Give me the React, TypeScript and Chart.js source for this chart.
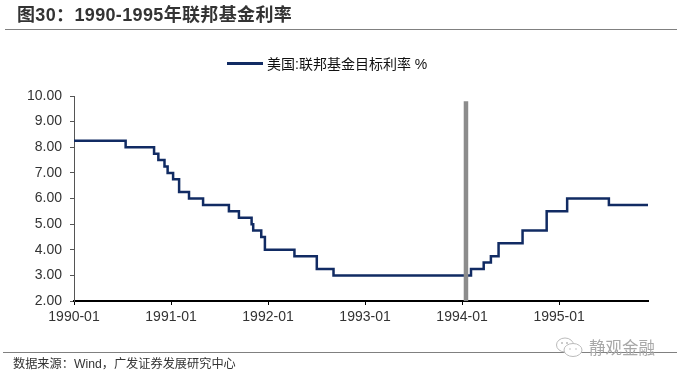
import React, { useEffect, useRef } from "react";
import { Chart, registerables } from "chart.js";

Chart.register(...registerables);

// ---- data ----
const rateDates = [
  "1990-01-01", "1990-07-13", "1990-10-29", "1990-11-14", "1990-12-07", "1990-12-19",
  "1991-01-09", "1991-02-01", "1991-03-08", "1991-04-30", "1991-08-06", "1991-09-13",
  "1991-10-31", "1991-11-06", "1991-12-06", "1991-12-20", "1992-04-09", "1992-07-02",
  "1992-09-04", "1994-02-04", "1994-03-22", "1994-04-18", "1994-05-17", "1994-08-16",
  "1994-11-15", "1995-02-01", "1995-07-06", "1995-12-01",
];
const rates = [
  8.25, 8.0, 7.75, 7.5, 7.25, 7.0,
  6.75, 6.25, 6.0, 5.75, 5.5, 5.25,
  5.0, 4.75, 4.5, 4.0, 3.75, 3.25,
  3.0, 3.25, 3.5, 3.75, 4.25, 4.75,
  5.5, 6.0, 5.75, 5.75,
];
const markerDate = "1994-01-16";
const markerTop = 9.8;
const xTickLabels = ["1990-01", "1991-01", "1992-01", "1993-01", "1994-01", "1995-01"];
const xStart = "1990-01-01";
const xEnd = "1995-12-01";
const yMin = 2;
const yMax = 10;
const yStep = 1;
const seriesName = "美国:联邦基金目标利率 %";
const titleText = "图30：1990-1995年联邦基金利率";
const sourceText = "数据来源：Wind，广发证券发展研究中心";
const watermarkText = "静观金融";

const NAVY = "#112b63";
const FONT = "'Liberation Sans', Arial, 'Noto Sans CJK SC', sans-serif";

function toX(d: string): number {
  const [y, m, dd] = d.split("-").map(Number);
  const dim = new Date(y, m, 0).getDate();
  return (y - 1990) * 12 + (m - 1) + (dd - 1) / dim;
}

export default function App() {
  const ref = useRef<HTMLCanvasElement | null>(null);

  useEffect(() => {
    if (!ref.current) return;
    const xTickValues = xTickLabels.map((l) => toX(l + "-01"));
    const chart = new Chart(ref.current, {
      type: "line",
      data: {
        datasets: [
          {
            label: seriesName,
            data: rateDates.map((d, i) => ({ x: toX(d), y: rates[i] })),
            borderColor: NAVY,
            backgroundColor: NAVY,
            borderWidth: 2.5,
            pointRadius: 0,
            stepped: "before",
            order: 1,
          },
          {
            label: "marker",
            data: [
              { x: toX(markerDate), y: yMin },
              { x: toX(markerDate), y: markerTop },
            ],
            borderColor: "#8c8c8c",
            borderWidth: 4.5,
            borderCapStyle: "butt",
            pointRadius: 0,
            order: 0,
          },
        ],
      },
      options: {
        animation: false,
        responsive: false,
        devicePixelRatio: 1,
        layout: { padding: { left: 0, right: 29, top: 96, bottom: 54 } },
        plugins: {
          legend: { display: false },
          tooltip: { enabled: false },
        },
        scales: {
          x: {
            type: "linear",
            min: toX(xStart),
            max: toX(xEnd),
            afterBuildTicks: (s: any) => {
              s.ticks = xTickValues.map((v) => ({ value: v }));
            },
            afterFit: (s: any) => {
              s.height = 30;
            },
            ticks: {
              callback: (_v: any, i: number) => xTickLabels[i],
              font: { family: FONT, size: 14 },
              color: "#333",
              padding: 4,
              maxRotation: 0,
              autoSkip: false,
            },
            grid: { drawOnChartArea: false, drawTicks: true, tickLength: 4, color: "#000", lineWidth: 1 },
            border: { display: true, color: "#000", width: 2 },
          },
          y: {
            type: "linear",
            min: yMin,
            max: yMax,
            afterFit: (s: any) => {
              s.width = 74;
            },
            ticks: {
              stepSize: yStep,
              callback: (v: any) => Number(v).toFixed(2),
              font: { family: FONT, size: 14 },
              color: "#333",
              padding: 8,
            },
            grid: { drawOnChartArea: false, drawTicks: true, tickLength: 4, color: "#555", lineWidth: 1 },
            border: { display: true, color: "#555", width: 1 },
          },
        },
      },
    } as any);
    return () => chart.destroy();
  }, []);

  return (
    <div
      style={{
        position: "absolute",
        left: 0,
        top: 0,
        width: 677,
        height: 385,
        background: "#fff",
        overflow: "hidden",
        fontFamily: FONT,
      }}
    >
      <canvas ref={ref} width={677} height={385} style={{ position: "absolute", left: 0, top: 0, width: 677, height: 385 }} />
      <div
        style={{
          position: "absolute",
          left: 17,
          top: 5.5,
          fontSize: 18,
          lineHeight: "18px",
          fontWeight: "bold",
          letterSpacing: "0.35px",
          color: "#333",
          whiteSpace: "nowrap",
        }}
      >
        {titleText}
      </div>
      <div style={{ position: "absolute", left: 5, top: 29, width: 672, height: 1, background: "#808080" }} />
      {/* legend */}
      <div style={{ position: "absolute", left: 227, top: 62, width: 36, height: 2.5, background: NAVY }} />
      <div
        style={{
          position: "absolute",
          left: 267,
          top: 55.5,
          fontSize: 14,
          lineHeight: "16px",
          color: "#111",
          whiteSpace: "nowrap",
        }}
      >
        {seriesName}
      </div>
      {/* footer */}
      <div style={{ position: "absolute", left: 3, top: 352, width: 674, height: 1, background: "#808080" }} />
      <div
        style={{
          position: "absolute",
          left: 13,
          top: 357,
          fontSize: 12.2,
          lineHeight: "14px",
          color: "#333",
          whiteSpace: "nowrap",
        }}
      >
        {sourceText}
      </div>
      {/* watermark */}
      <svg width={30} height={22} style={{ position: "absolute", left: 555, top: 336 }}>
        <ellipse cx={10} cy={9} rx={8.5} ry={7} fill="#fff" stroke="#bbb" strokeWidth={1} />
        <ellipse cx={18} cy={14} rx={9} ry={6.5} fill="#fff" stroke="#bbb" strokeWidth={1} />
        <circle cx={7} cy={7} r={1} fill="#bbb" />
        <circle cx={12} cy={7} r={1} fill="#bbb" />
        <circle cx={15} cy={13} r={0.8} fill="#bbb" />
        <circle cx={21} cy={13} r={0.8} fill="#bbb" />
      </svg>
      <div
        style={{
          position: "absolute",
          left: 589,
          top: 338.5,
          fontSize: 16.5,
          lineHeight: "18px",
          color: "#a8a8a8",
          whiteSpace: "nowrap",
        }}
      >
        {watermarkText}
      </div>
    </div>
  );
}
